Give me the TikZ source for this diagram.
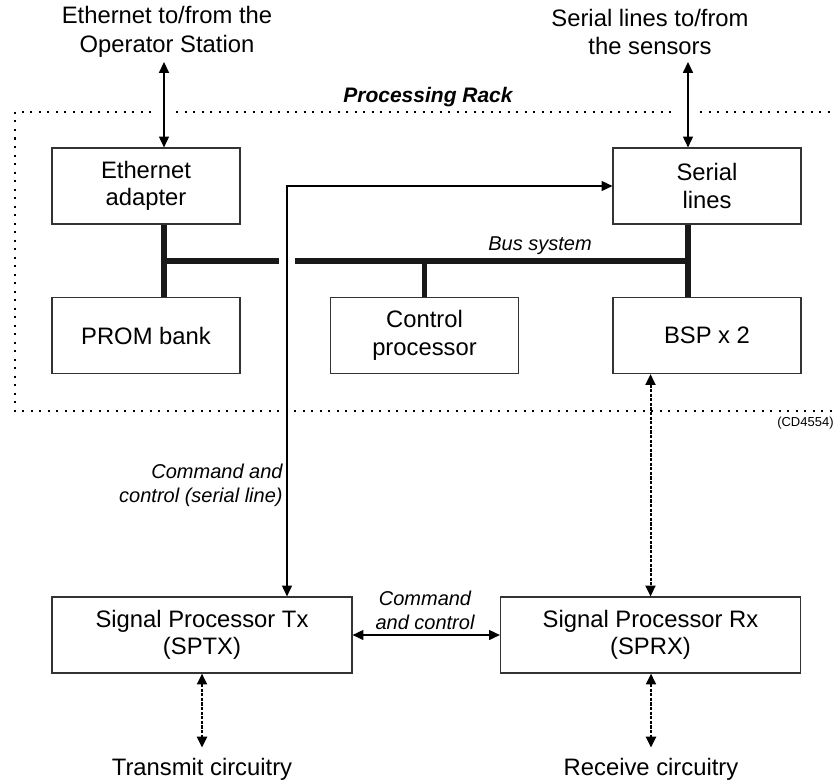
\documentclass[tikz,border=0pt]{standalone}
\usepackage{fontspec}
\setmainfont{Liberation Sans}
\usetikzlibrary{arrows.meta}
\tikzstyle{unit} = [draw=black!80,line width=0.6pt,minimum width=94pt,minimum height=38pt,align=center,inner sep=2pt]
\tikzstyle{wide unit} = [unit,minimum width=150pt]
\tikzstyle{link} = [line width=0.6pt,{Triangle[length=5.4pt,width=5pt]}-{Triangle[length=5.4pt,width=5pt]}]
\tikzstyle{dlink} = [link,line width=1pt,dash pattern=on 1.6pt off 0.7pt]
\tikzstyle{bus} = [line width=2.6pt,black!90]
\tikzstyle{rack} = [line width=1pt,dash pattern=on 1pt off 3.25pt]
\tikzstyle{note} = [font=\fontsize{10}{12}\selectfont\itshape,align=center,inner sep=0pt]

\begin{document}
\begin{tikzpicture}[x=0.5pt,y=-0.5pt,font=\fontsize{11.9}{13.8}\selectfont]
	\useasboundingbox (0,0) rectangle (835,781);
	\def \gap {8}
	% processing rack outline
	\draw [rack] (151,112) -- (15,112) -- (15,411) -- (835,411);
	\draw [rack] (176,112) -- (673,112);
	\draw [rack] (700,112) -- (835,112);
	\node at (428,97) [font=\fontsize{10.5}{12}\selectfont\bfseries\itshape] (rackname) {Processing Rack};
	\node at (834,423) [anchor=east,font=\fontsize{6.5}{8}\selectfont,inner sep=0pt] (ref) {(CD4554)};

	% units
	\node at (146,186) [unit] (eth) {Ethernet\\adapter};
	\node at (707,186) [unit] (ser) {Serial\\lines};
	\node at (146,335.5) [unit] (prom) {PROM bank};
	\node at (424.5,335.5) [unit] (ctrl) {Control\\processor};
	\node at (707,335.5) [unit] (bsp) {BSP x 2};
	\node at (202,635) [wide unit] (sptx) {Signal Processor Tx\\(SPTX)};
	\node at (650.5,635) [wide unit] (sprx) {Signal Processor Rx\\(SPRX)};

	% outside world
	\node at (167,32) [align=center,font=\fontsize{11.9}{14.4}\selectfont] (ethin) {Ethernet to/from the\\Operator Station};
	\node at (650,32) [align=center,font=\fontsize{11.9}{14.4}\selectfont] (serin) {Serial lines to/from\\the sensors};
	\node at (202,769) [inner sep=5pt] (txc) {Transmit circuitry};
	\node at (651,769) [inner sep=5pt] (rxc) {Receive circuitry};

	\coordinate (ethport) at (164,62);
	\coordinate (serport) at (688,62);
	\coordinate (cmdx) at (287,186);
	\coordinate (busy) at (0,261);

	% bus system
	\draw [bus] (eth.south -| ethport) -- (prom.north -| ethport);
	\draw [bus] (ser.south -| serport) -- (bsp.north -| serport);
	\draw [bus] (busy -| ethport) -- ([xshift=-\gap*0.5pt]busy -| cmdx);
	\draw [bus] ([xshift=\gap*0.5pt]busy -| cmdx) -- (busy -| serport);
	\draw [bus] (busy -| ctrl.north) -- (ctrl.north);
	\node at (540,246) [note] (busname) {Bus system};

	% connections
	\draw [link] (ethport) -- (eth.north -| ethport);
	\draw [link] (serport) -- (ser.north -| serport);
	\draw [link] (sptx.north -| cmdx) -- (cmdx) -- (ser.west);
	\node at (283,485) [note,anchor=east,align=right] (cmdname) {Command and\\control (serial line)};
	\draw [link] (sptx.east) -- (sprx.west);
	\node at (425,610) [note] (ccname) {Command\\and control};
	\draw [dlink] (bsp.south -| sprx.north) -- (sprx.north);
	\draw [dlink] (sptx.south) -- (txc.north);
	\draw [dlink] (sprx.south -| rxc.north) -- (rxc.north);
\end{tikzpicture}
\end{document}
